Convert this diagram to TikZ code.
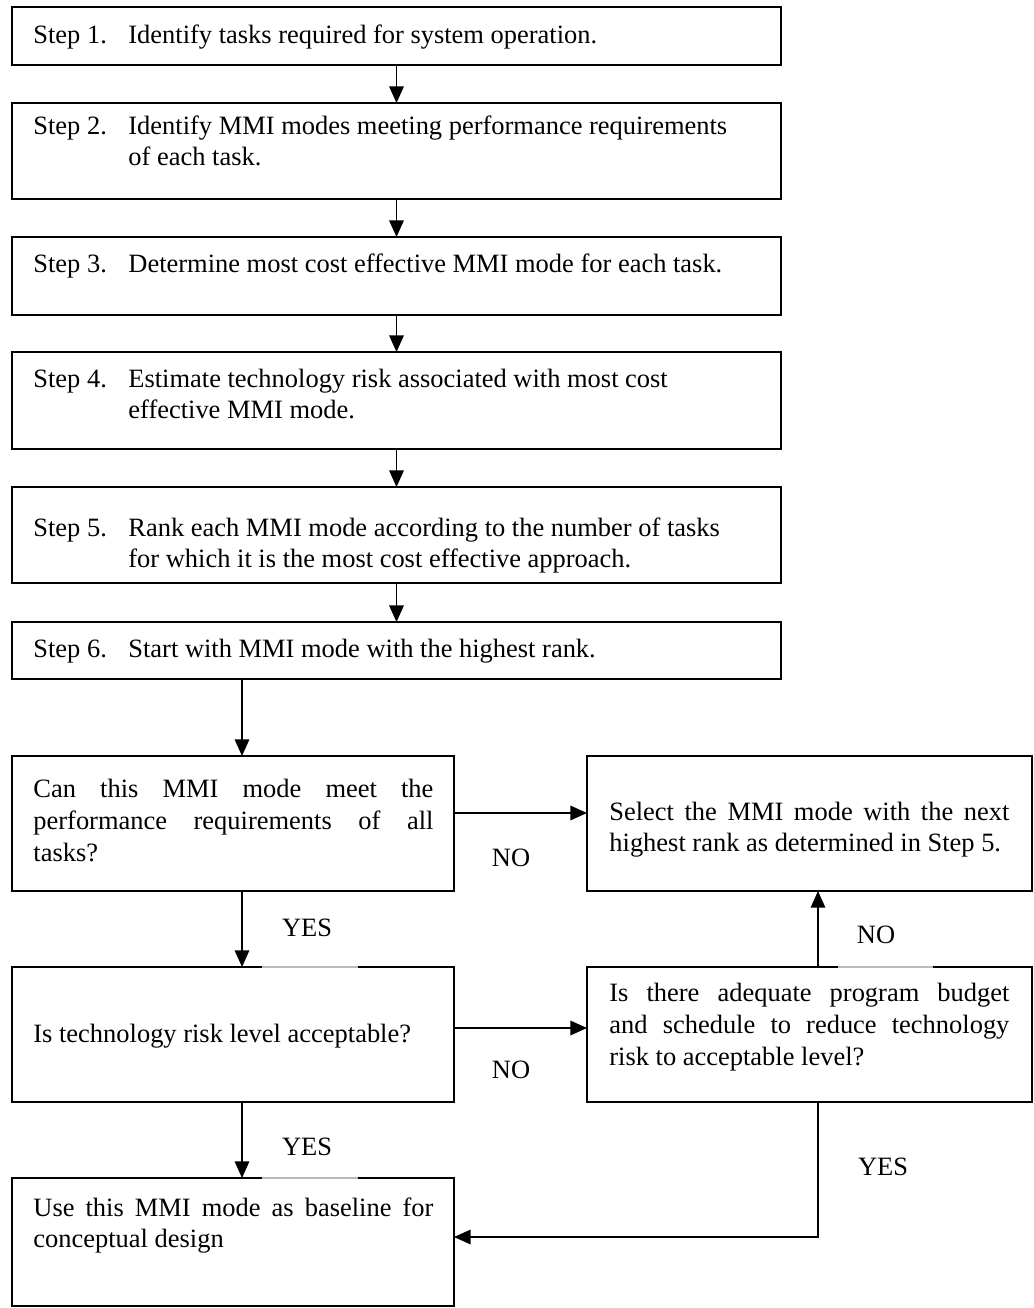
\documentclass[tikz,border=0pt]{standalone}
\usepackage{fontspec}
\setmainfont{Liberation Serif}
\usetikzlibrary{arrows.meta}
\newcommand\mkbox[5]{\node[boxst, minimum width={(#4-#2)*0.48pt}, minimum height={(#5-#3)*0.48pt}] (#1) at (#2,#3) {};}
\newcommand\jline[1]{\makebox[192pt][s]{#1}}
\begin{document}
\begin{tikzpicture}[x=0.48pt,y=-0.48pt,
  boxst/.style={draw, line width=0.9pt, inner sep=0pt, outer sep=0pt, anchor=north west},
  conn/.style={line width=0.7pt, -{Triangle[length=8pt,width=7pt]}},
  txt/.style={anchor=base west, inner sep=0pt, font=\fontsize{12.7pt}{15pt}\selectfont},
  lbl/.style={inner sep=0pt, font=\fontsize{12.7pt}{15pt}\selectfont},
  gap/.style={draw=white, line width=1.6pt},
  gapline/.style={draw=gray!55, line width=0.5pt}]
\useasboundingbox (0,0) rectangle (1034,1308);
% boxes
\mkbox{s1}{12}{7}{781}{65}
\mkbox{s2}{12}{103}{781}{199}
\mkbox{s3}{12}{237}{781}{315}
\mkbox{s4}{12}{352}{781}{449}
\mkbox{s5}{12}{487}{781}{583}
\mkbox{s6}{12}{622}{781}{679}
\mkbox{can}{12}{756}{454}{891}
\mkbox{sel}{587}{756}{1032}{891}
\mkbox{tech}{12}{967}{454}{1102}
\mkbox{bud}{587}{967}{1032}{1102}
\mkbox{use}{12}{1178}{454}{1306}
% light segments under labels
\coordinate (g1a) at (262,967); \coordinate (g1b) at (358,967);
\coordinate (g2a) at (262,1178); \coordinate (g2b) at (358,1178);
\coordinate (g3a) at (838,967); \coordinate (g3b) at (933,967);
\draw[gap] (g1a) -- (g1b); \draw[gapline] (g1a) -- (g1b);
\draw[gap] (g2a) -- (g2b); \draw[gapline] (g2a) -- (g2b);
\draw[gap] (g3a) -- (g3b); \draw[gapline] (g3a) -- (g3b);
% step texts
\node[txt] (l1) at (33,43) {Step 1.};
\node[txt] (t1) at (128,43) {Identify tasks required for system operation.};
\node[txt] (l2) at (33,134) {Step 2.};
\node[txt] (t2a) at (128,134) {Identify MMI modes meeting performance requirements};
\node[txt] (t2b) at (128,165) {of each task.};
\node[txt] (l3) at (33,272) {Step 3.};
\node[txt] (t3) at (128,272) {Determine most cost effective MMI mode for each task.};
\node[txt] (l4) at (33,387) {Step 4.};
\node[txt] (t4a) at (128,387) {Estimate technology risk associated with most cost};
\node[txt] (t4b) at (128,418) {effective MMI mode.};
\node[txt] (l5) at (33,536) {Step 5.};
\node[txt] (t5a) at (128,536) {Rank each MMI mode according to the number of tasks};
\node[txt] (t5b) at (128,567) {for which it is the most cost effective approach.};
\node[txt] (l6) at (33,657) {Step 6.};
\node[txt] (t6) at (128,657) {Start with MMI mode with the highest rank.};
% decision texts
\node[txt] (c1) at (33,797) {\jline{Can this MMI mode meet the}};
\node[txt] (c2) at (33,829) {\jline{performance requirements of all}};
\node[txt] (c3) at (33,861) {tasks?};
\node[txt] (e1) at (609,820) {\jline{Select the MMI mode with the next}};
\node[txt] (e2) at (609,851) {highest rank as determined in Step 5.};
\node[txt] (r1) at (33,1042) {Is technology risk level acceptable?};
\node[txt] (b1) at (609,1001) {\jline{Is there adequate program budget}};
\node[txt] (b2) at (609,1033) {\jline{and schedule to reduce technology}};
\node[txt] (b3) at (609,1065) {risk to acceptable level?};
\node[txt] (u1) at (33,1216) {\jline{Use this MMI mode as baseline for}};
\node[txt] (u2) at (33,1247) {conceptual design};
% labels
\node[lbl] (yes1) at (307,928) {YES};
\node[lbl] (yes2) at (307,1147) {YES};
\node[lbl] (no1) at (511,858) {NO};
\node[lbl] (no2) at (876,935) {NO};
\node[lbl] (no3) at (511,1070) {NO};
\node[lbl] (yes3) at (883,1167) {YES};
% helper coordinates
\coordinate (xl) at (242,0);
\coordinate (xr) at (818,0);
\coordinate (ya) at (0,813);
\coordinate (yb) at (0,1028);
\coordinate (yc) at (0,1237);
\coordinate (turn) at (818,1237);
% connectors
\draw[conn] (s1.south) -- (s2.north);
\draw[conn] (s2.south) -- (s3.north);
\draw[conn] (s3.south) -- (s4.north);
\draw[conn] (s4.south) -- (s5.north);
\draw[conn] (s5.south) -- (s6.north);
\draw[conn] (s6.south -| xl) -- (can.north -| xl);
\draw[conn] (can.south -| xl) -- (tech.north -| xl);
\draw[conn] (tech.south -| xl) -- (use.north -| xl);
\draw[conn] (can.east |- ya) -- (sel.west |- ya);
\draw[conn] (tech.east |- yb) -- (bud.west |- yb);
\draw[conn] (bud.north -| xr) -- (sel.south -| xr);
\draw[conn] (bud.south -| xr) -- (turn) -- (use.east |- yc);
\end{tikzpicture}
\end{document}
